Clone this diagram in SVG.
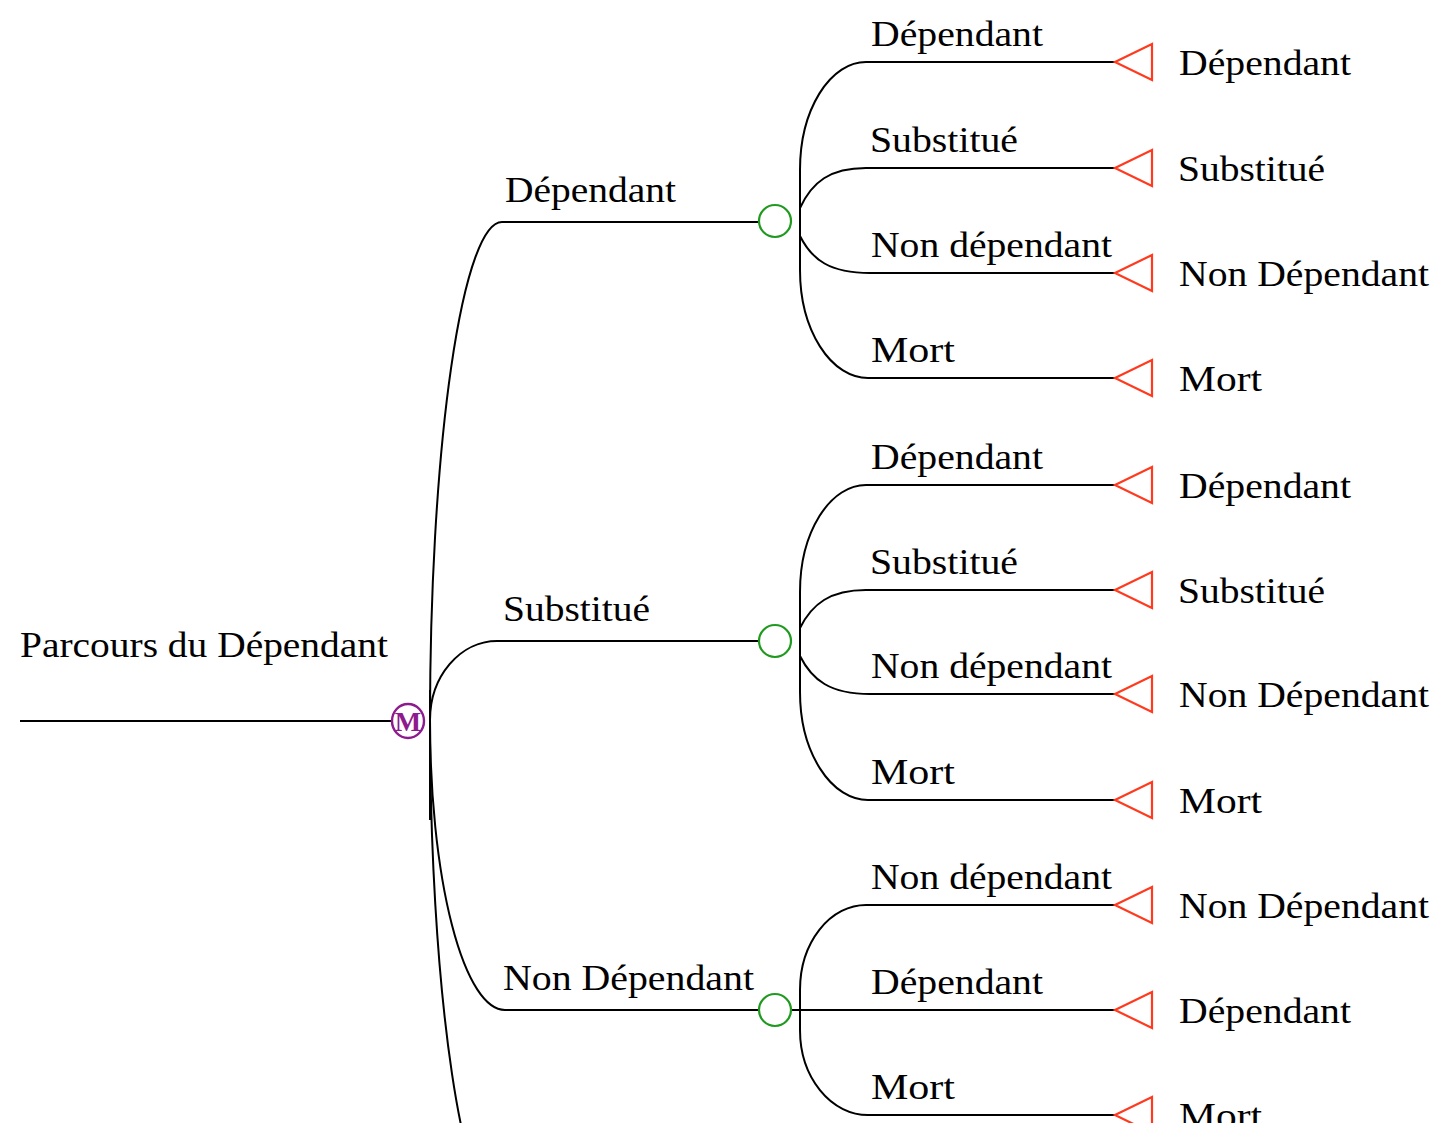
<svg xmlns="http://www.w3.org/2000/svg" width="1437" height="1123" viewBox="0 0 1437 1123">
<style>
.ln{fill:none;stroke:#000;stroke-width:2}
.ch{fill:none;stroke:#1f9a1f;stroke-width:2.2}
.tm{fill:none;stroke:#ff3a1e;stroke-width:2.2;stroke-linejoin:miter}
.mk{fill:none;stroke:#8e1b8e;stroke-width:2.4}
text{font-family:"Liberation Serif","Times New Roman",serif;font-size:36px;fill:#000}
.mt{font-size:28px;fill:#8e1b8e;font-weight:bold}
</style>
<rect width="1437" height="1123" fill="#fff"/>
<g id="connectors">
<path class="ln" d="M20 721 H392"/>
<path class="ln" d="M430 690 V820"/>
<path class="ln" d="M430 720 A72 498 0 0 1 502 222 H758"/>
<path class="ln" d="M430 720 A67 79 0 0 1 497 641 H758"/>
<path class="ln" d="M430 720 A75 290 0 0 0 505 1010 H758"/>
<path class="ln" d="M430 720 A75 500 0 0 0 505 1220"/>
<path class="ln" d="M800 203 V243"/>
<path class="ln" d="M800 221 V170 A66 108 0 0 1 866 62 H1115"/>
<path class="ln" d="M800 208 C812 182 830 168 866 168 H1115"/>
<path class="ln" d="M800 236 C812 260 830 273 870 273 H1115"/>
<path class="ln" d="M800 221 V270 A68 108 0 0 0 868 378 H1115"/>
<path class="ln" d="M800 623 V663"/>
<path class="ln" d="M800 641 V592 A66 107 0 0 1 866 485 H1115"/>
<path class="ln" d="M800 628 C812 604 830 590 866 590 H1115"/>
<path class="ln" d="M800 656 C812 680 830 694 870 694 H1115"/>
<path class="ln" d="M800 641 V692 A68 108 0 0 0 868 800 H1115"/>
<path class="ln" d="M800 1010 V990 A66 85 0 0 1 866 905 H1115"/>
<path class="ln" d="M790 1010 H1115"/>
<path class="ln" d="M800 1010 V1030 A68 85 0 0 0 868 1115 H1115"/>
</g>
<g id="root-label"><text x="20" y="657" textLength="368" lengthAdjust="spacingAndGlyphs">Parcours du Dépendant</text></g>
<g id="markov">
<ellipse class="mk" cx="408" cy="721" rx="16" ry="17"/>
<text class="mt" x="408" y="731" text-anchor="middle">M</text>
</g>
<g id="branch-labels">
<text x="505" y="202" textLength="171" lengthAdjust="spacingAndGlyphs">Dépendant</text>
<text x="503" y="621" textLength="147" lengthAdjust="spacingAndGlyphs">Substitué</text>
<text x="503" y="990" textLength="251" lengthAdjust="spacingAndGlyphs">Non Dépendant</text>
</g>
<g id="chance1"><circle class="ch" cx="775" cy="221" r="16"/></g>
<g id="chance2"><circle class="ch" cx="775" cy="641" r="16"/></g>
<g id="chance3"><circle class="ch" cx="775" cy="1010" r="16"/></g>
<g id="sub-labels">
<text x="871" y="46" textLength="172" lengthAdjust="spacingAndGlyphs">Dépendant</text>
<text x="870" y="152" textLength="148" lengthAdjust="spacingAndGlyphs">Substitué</text>
<text x="871" y="257" textLength="241" lengthAdjust="spacingAndGlyphs">Non dépendant</text>
<text x="871" y="362" textLength="84" lengthAdjust="spacingAndGlyphs">Mort</text>
<text x="871" y="469" textLength="172" lengthAdjust="spacingAndGlyphs">Dépendant</text>
<text x="870" y="574" textLength="148" lengthAdjust="spacingAndGlyphs">Substitué</text>
<text x="871" y="678" textLength="241" lengthAdjust="spacingAndGlyphs">Non dépendant</text>
<text x="871" y="784" textLength="84" lengthAdjust="spacingAndGlyphs">Mort</text>
<text x="871" y="889" textLength="241" lengthAdjust="spacingAndGlyphs">Non dépendant</text>
<text x="871" y="994" textLength="172" lengthAdjust="spacingAndGlyphs">Dépendant</text>
<text x="871" y="1099" textLength="84" lengthAdjust="spacingAndGlyphs">Mort</text>
</g>
<g id="terminals">
<path class="tm" d="M1115 62 L1152 44 V80 Z"/>
<path class="tm" d="M1115 168 L1152 150 V186 Z"/>
<path class="tm" d="M1115 273 L1152 255 V291 Z"/>
<path class="tm" d="M1115 378 L1152 360 V396 Z"/>
<path class="tm" d="M1115 485 L1152 467 V503 Z"/>
<path class="tm" d="M1115 590 L1152 572 V608 Z"/>
<path class="tm" d="M1115 694 L1152 676 V712 Z"/>
<path class="tm" d="M1115 800 L1152 782 V818 Z"/>
<path class="tm" d="M1115 905 L1152 887 V923 Z"/>
<path class="tm" d="M1115 1010 L1152 992 V1028 Z"/>
<path class="tm" d="M1115 1115 L1152 1097 V1133 Z"/>
</g>
<g id="terminal-labels">
<text x="1179" y="75" textLength="172" lengthAdjust="spacingAndGlyphs">Dépendant</text>
<text x="1178" y="181" textLength="147" lengthAdjust="spacingAndGlyphs">Substitué</text>
<text x="1179" y="286" textLength="250" lengthAdjust="spacingAndGlyphs">Non Dépendant</text>
<text x="1179" y="391" textLength="83" lengthAdjust="spacingAndGlyphs">Mort</text>
<text x="1179" y="498" textLength="172" lengthAdjust="spacingAndGlyphs">Dépendant</text>
<text x="1178" y="603" textLength="147" lengthAdjust="spacingAndGlyphs">Substitué</text>
<text x="1179" y="707" textLength="250" lengthAdjust="spacingAndGlyphs">Non Dépendant</text>
<text x="1179" y="813" textLength="83" lengthAdjust="spacingAndGlyphs">Mort</text>
<text x="1179" y="918" textLength="250" lengthAdjust="spacingAndGlyphs">Non Dépendant</text>
<text x="1179" y="1023" textLength="172" lengthAdjust="spacingAndGlyphs">Dépendant</text>
<text x="1179" y="1128" textLength="83" lengthAdjust="spacingAndGlyphs">Mort</text>
</g>
</svg>
